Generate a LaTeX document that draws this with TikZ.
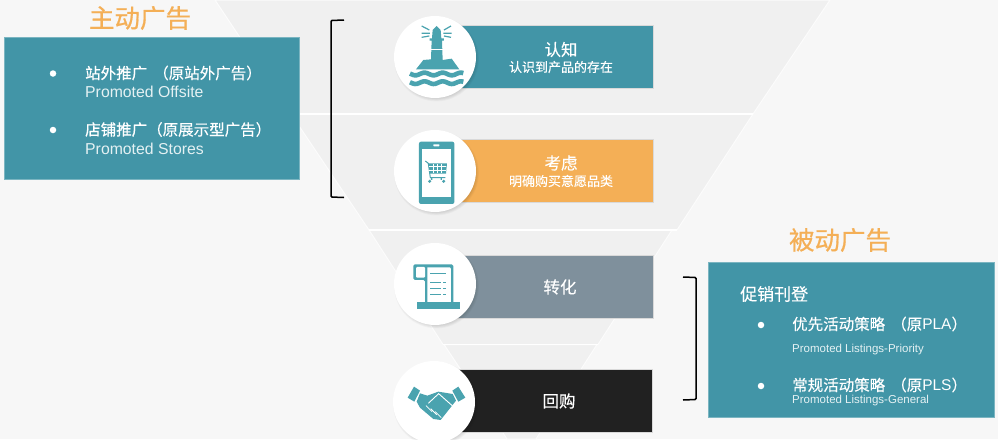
\documentclass[tikz,border=0pt]{standalone}
\usepackage{fontspec}
\setmainfont{Liberation Sans}
\newfontfamily\cjk[FakeBold=.25]{Noto Sans CJK SC}
\newfontfamily\cjkstrong[FakeBold=.7]{Noto Sans CJK SC}
\definecolor{pagegray}{HTML}{F7F7F7}
\definecolor{bandgray}{HTML}{F0F0F0}
\definecolor{boxteal}{HTML}{4295A7}
\definecolor{iconteal}{HTML}{4AA3AF}
\definecolor{adorange}{HTML}{F4AF56}
\definecolor{boxslate}{HTML}{7F909C}
\definecolor{boxblack}{HTML}{212121}
\definecolor{softwhite}{HTML}{E4F1F3}
\tikzset{
  band/.style={fill=bandgray, draw=white!60!pagegray, line width=1pt},
  gap/.style={draw=white, line width=1.6pt},
  panel/.style={fill=boxteal, draw=boxteal!70!white, line width=.4pt},
  stage/.style={draw=white!85!black, line width=.4pt, minimum width=220pt, minimum height=63pt, inner sep=0pt},
  disc/.style={circle, fill=white, minimum size=82pt, inner sep=0pt},
  heading/.style={text=adorange, font=\cjkstrong\fontsize{25.5}{27}\selectfont},
  stagetitle/.style={text=white, font=\cjk\fontsize{16.5}{18}\selectfont},
  stagenote/.style={text=white, font=\cjk\fontsize{13}{15}\selectfont},
  itemtext/.style={text=white, anchor=west, inner sep=0pt, font=\cjk\fontsize{15.5}{17}\selectfont},
  entext/.style={text=softwhite, anchor=west, inner sep=0pt},
  dot/.style={circle, fill=white, minimum size=6.5pt, inner sep=0pt},
  bracket/.style={draw=black, line width=1.5pt, rounded corners=1pt},
  icon/.style={fill=iconteal, draw=none},
  cut/.style={draw=white, line width=1.2pt}
}
\begin{document}
\begin{tikzpicture}[x=1pt, y=-1pt]
      \def\stagex{543};
      \useasboundingbox (0,0) rectangle (998,439);
      \fill[pagegray] (0,0) rectangle (998,439);
      %
      \path[band] (215,0) -- (830,0) -- (753,114) -- (291,114) -- cycle;   % funnel
      \path[band] (291,114) -- (753,114) -- (677,230) -- (369,230) -- cycle;
      \path[band] (369,230) -- (672,230) -- (598,344.5) -- (443,344.5) -- cycle;
      \path[band] (444,344.5) -- (597,344.5) -- (536,439) -- (507,439) -- cycle;
      \draw[gap] (291,114) -- (753,114);
      \draw[gap] (369,230) -- (677,230);
      \draw[gap] (443,344.5) -- (598,344.5);
      %
      \node[heading] (activetitle) at (140,18) {主动广告};
      \path[panel] (4,37.5) rectangle (299.5,179.5);   % left panel
      \node[dot] (dota) at (53,73.5) {};
      \node[itemtext] (itema) at (85,73) {{\cjkstrong 站外推广} \,（原站外广告）};
      \node[entext, font=\fontsize{15.8}{17}\selectfont] (offsite) at (85,91.5) {Promoted Offsite};
      \node[dot] (dotb) at (53,130) {};
      \node[itemtext] (itemb) at (85,129.5) {{\cjkstrong 店铺推广}（原展示型广告）};
      \node[entext, font=\fontsize{15.8}{17}\selectfont] (stores) at (85,149) {Promoted Stores};
      %
      \draw[bracket] (344,20) -- (331,20.5) -- (331,197) -- (344,197.5);   % left bracket
      \draw[bracket] (683,277) -- (696,277.5) -- (696,399.5) -- (683,400);   % right bracket
      %
      \node[stage, fill=boxteal] (aware) at (\stagex,57) {};
      \node[stage, fill=adorange] (consider) at (\stagex,171) {};
      \node[stage, fill=boxslate] (convert) at (\stagex,286.5) {};
      \node[stage, fill=boxblack, minimum width=218pt] (rebuy) at (\stagex,400.5) {};
      %
      \node[stagetitle] (awarea) at (561,49.5) {认知};
      \node[stagenote] (awareb) at (561,67) {认识到产品的存在};
      \node[stagetitle] (considera) at (561,163) {考虑};
      \node[stagenote] (considerb) at (561,181) {明确购买意愿品类};
      \node[stagetitle] (converta) at (560,287) {转化};
      \node[stagetitle] (rebuya) at (559,401) {回购};
      %
      \foreach \cx/\cy in {435/57, 435/171, 435/284, 434/402}   % soft shadow under the discs
        \foreach \grow in {0,1,...,8}
          \fill[black, opacity=.028] (\cx+1.5,\cy+2) circle (36+.8*\grow);
      %
      \node[disc] (awaredisc) at (435,57) {};
      \node[disc] (considerdisc) at (435,171) {};
      \node[disc] (convertdisc) at (435,284) {};
      \node[disc] (rebuydisc) at (434,402) {};
      %
      \begin{scope}[shift={(320,0)}, x=.3333pt, y=-.3333pt]   % lighthouse
        \fill[icon] (350,78) -- (362,90) -- (364,115) -- (372,115) -- (372,122) -- (366,122) -- (368,180)
          -- (395,176) -- (418,208) -- (288,208) -- (310,180) -- (333,178) -- (335,122) -- (329,122) -- (329,115) -- (336,115) -- (338,90) -- cycle;
        \draw[cut, line width=.9pt] (333,149) -- (368,149);
        \foreach \ry in {0,1}
          \draw[iconteal, line width=4.6pt] plot[smooth, samples=33, domain=270:430] (\x, {222+26*\ry+4*sin(6.6*\x)});
        \draw[iconteal, line width=1.2pt] (305,78) -- (328,90) (305,100) -- (330,100) (305,112) -- (328,108);
        \draw[iconteal, line width=1.2pt] (393,78) -- (372,90) (395,100) -- (370,100) (393,112) -- (372,108);
      \end{scope}
      %
      \begin{scope}[shift={(320,0)}, x=.3333pt, y=-.3333pt]   % phone and cart
        \fill[icon, rounded corners=2pt] (297,425) rectangle (403,612);
        \fill[white] (305,447) rectangle (393,590);
        \fill[white, rounded corners=.5pt] (340,433) rectangle (358,439);
        \fill[icon] (325,490) -- (381,490) -- (378,521) -- (330,521) -- cycle;
        \draw[iconteal, line width=1pt] (316,483) -- (325,490) -- (331,533) -- (376,533);
        \foreach \gx in {340,352,364}
          \draw[white, line width=.5pt] (\gx,492) -- (\gx,519);
        \foreach \gy in {500,510}
          \draw[white, line width=.5pt] (327,\gy) -- (379,\gy);
        \fill[iconteal] (333,533) -- (337,533) -- (337,540) -- (333,540) -- cycle (362,533) -- (366,533) -- (366,540) -- (362,540) -- cycle;
        \fill[iconteal] (329,544) circle (5) (371,544) circle (5);
      \end{scope}
      %
      \begin{scope}[shift={(370,225)}, x=.3333pt, y=-.3333pt]   % scroll
        \fill[icon, rounded corners=1.5pt] (130,165) -- (130,118) -- (250,118) -- (250,235) -- (165,235) -- (165,165) -- cycle;
        \fill[white] (172,127) -- (240,127) -- (243,132) -- (243,232) -- (172,232) -- cycle;
        \fill[white, rounded corners=1pt] (138,158) -- (138,126) -- (165,126) -- (165,158) -- cycle;
        \fill[icon] (140,232) rectangle (270,252);
        \draw[iconteal, line width=1pt] (181,147) -- (228,147);
        \foreach \ly in {172,190,208} {
          \draw[iconteal, line width=1.3pt] (181,\ly) -- (212,\ly);
          \draw[iconteal, line width=1.3pt] (220,\ly) -- (228,\ly);
        }
      \end{scope}
      %
      \begin{scope}[shift={(370,225)}, x=.3333pt, y=-.3333pt]   % handshake
        \fill[icon] (113,518) -- (132,485) -- (150,497) -- (133,530) -- cycle;
        \fill[icon] (286,518) -- (265,485) -- (247,497) -- (265,530) -- cycle;
        \fill[icon] (150,505) -- (172,512) -- (205,500) -- (248,507) -- (258,527) -- (212,585) -- (190,582) -- (150,548) -- (140,530) -- cycle;
        \draw[cut, line width=.9pt] (175,535) -- (206,506) -- (250,545);
        \foreach \fx in {0,1,2}
          \draw[cut, line width=.8pt] (168+14*\fx,542+9*\fx) -- (186+14*\fx,560+9*\fx);
      \end{scope}
      %
      \node[heading] (passivetitle) at (840,240) {被动广告};
      \path[panel] (708,262) rectangle (994,417);   % right panel
      \node[itemtext, font=\cjk\fontsize{17}{19}\selectfont] (listing) at (740,294) {促销刊登};
      \node[dot] (dotc) at (761,325) {};
      \node[itemtext] (itemc) at (792,324) {优先活动策略 \,（原{\fontspec{Liberation Sans}PLA}）};
      \node[entext, font=\fontsize{11.5}{13}\selectfont] (priority) at (792,349.5) {Promoted Listings-Priority};
      \node[dot] (dotd) at (761,386) {};
      \node[itemtext] (itemd) at (792,385) {常规活动策略 \,（原{\fontspec{Liberation Sans}PLS}）};
      \node[entext, font=\fontsize{11.5}{13}\selectfont] (general) at (792,401) {Promoted Listings-General};
      %
    \end{tikzpicture}
\end{document}
